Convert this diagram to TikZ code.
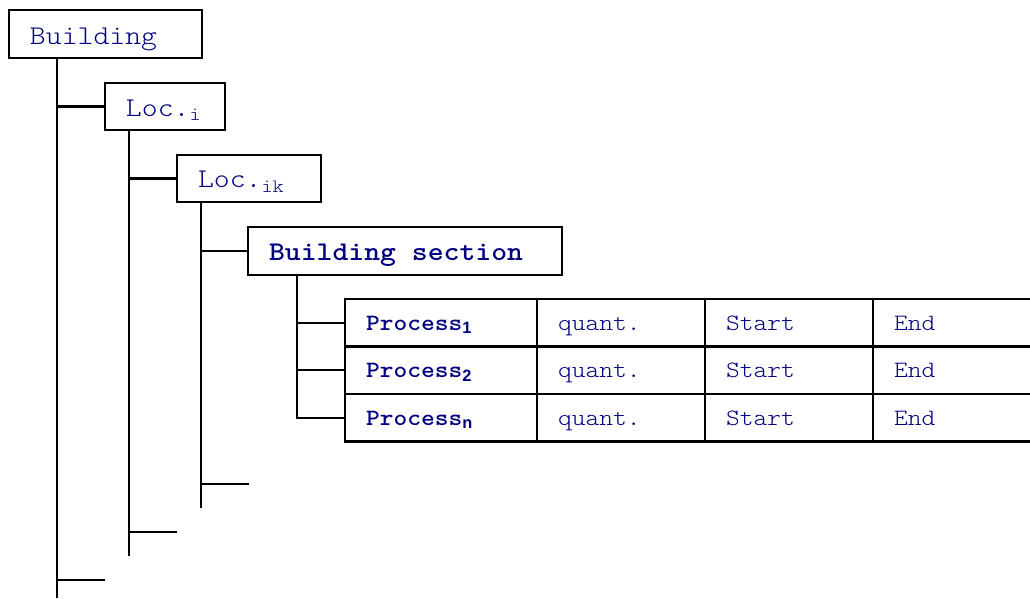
\documentclass[tikz,border=0pt]{standalone}
\usepackage{fontspec}
\setmonofont{lmmonolt10-regular.otf}[FakeStretch=1.12, BoldFont=lmmonolt10-bold.otf]
\newfontfamily\subsans{Liberation Sans}
\definecolor{ink}{RGB}{0,0,128}
\tikzset{
  wire/.style={draw=black, line width=1.1pt},
  box/.style={draw=black, line width=1.1pt, rectangle, anchor=north west,
    inner xsep=10.5pt, inner ysep=0pt, outer sep=0pt, align=left,
    text height=10pt, text depth=0pt,
    text=ink, font=\ttfamily\fontsize{13.5}{15}\selectfont},
  cell/.style={box, minimum height=23.75pt, text height=7.5pt,
    font=\ttfamily\fontsize{11.7}{13}\selectfont},
  colA/.style={cell, minimum width=96pt, text width=75pt},
  colB/.style={cell, minimum width=84pt, text width=63pt},
  colD/.style={cell, minimum width=79pt, text width=58pt},
}
\newcommand{\procsub}[1]{\textsubscript{\subsans\bfseries #1}}
\begin{document}
\begin{tikzpicture}[x=0.5pt, y=-0.5pt]
\useasboundingbox (0,0) rectangle (1030,599);

% hierarchy boxes
\node[box, minimum width=96.5pt, minimum height=24pt, text width=75.5pt, text height=11pt] (bld) at (9,10) {Building};
\node[box, minimum width=60pt, minimum height=23.5pt, text width=39pt] (loci) at (105,83) {Loc.\textsubscript{i}};
\node[box, minimum width=72pt, minimum height=23.5pt, text width=51pt, text height=9.5pt] (locik) at (177,155) {Loc.\textsubscript{ik}};
\node[box, minimum width=157pt, minimum height=24pt, text width=136pt] (bsec) at (248,227) {\bfseries Building\kern7.94pt section};

% process table
\node[colA] (p1) at (345,299)   {\bfseries Process\procsub{1}};
\node[colB] (q1) at (537,299)   {quant.};
\node[colB] (s1) at (705,299)   {Start};
\node[colD] (e1) at (873,299)   {End};
\node[colA] (p2) at (345,346.5) {\bfseries Process\procsub{2}};
\node[colB] (q2) at (537,346.5) {quant.};
\node[colB] (s2) at (705,346.5) {Start};
\node[colD] (e2) at (873,346.5) {End};
\node[colA] (p3) at (345,394)   {\bfseries Process\procsub{n}};
\node[colB] (q3) at (537,394)   {quant.};
\node[colB] (s3) at (705,394)   {Start};
\node[colD] (e3) at (873,394)   {End};

% trunk of Building
\coordinate (t0) at ([xshift=24pt]bld.south west);
\coordinate (t0end) at (57,598);
\coordinate (b0) at (105,580);
\draw[wire] (t0) -- (t0end);
\draw[wire] (t0 |- loci.west) -- (loci.west);
\draw[wire] (t0 |- b0) -- (b0);

% trunk of Loc.i
\coordinate (t1) at ([xshift=12pt]loci.south west);
\coordinate (t1end) at (129,556);
\coordinate (b1) at (177,532);
\draw[wire] (t1) -- (t1end);
\draw[wire] (t1 |- locik.west) -- (locik.west);
\draw[wire] (t1 |- b1) -- (b1);

% trunk of Loc.ik
\coordinate (t2) at ([xshift=12pt]locik.south west);
\coordinate (t2end) at (201,508);
\coordinate (b2) at (249,484);
\draw[wire] (t2) -- (t2end);
\draw[wire] (t2 |- bsec.west) -- (bsec.west);
\draw[wire] (t2 |- b2) -- (b2);

% trunk of the building section
\coordinate (t3) at ([xshift=24.5pt]bsec.south west);
\draw[wire] (t3) |- (p3.west);
\draw[wire] (t3 |- p1.west) -- (p1.west);
\draw[wire] (t3 |- p2.west) -- (p2.west);
\end{tikzpicture}
\end{document}
